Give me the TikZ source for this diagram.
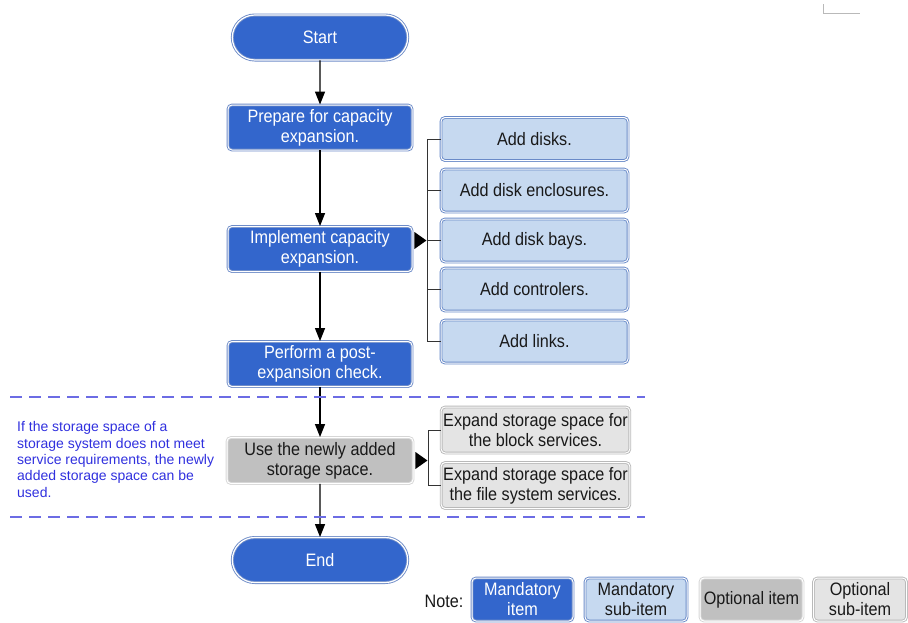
\documentclass[tikz,border=0pt]{standalone}
\usepackage{fontspec}
\setmainfont{Liberation Sans}
\newfontfamily\narrowsans[FakeStretch=0.9]{Liberation Sans}
\usetikzlibrary{arrows.meta,shapes.misc,calc}

\definecolor{mblue}{RGB}{51,102,204}
\definecolor{mborder}{RGB}{110,140,200}
\definecolor{lblue}{RGB}{198,217,240}
\definecolor{lborder}{RGB}{105,138,200}
\definecolor{ogray}{RGB}{192,192,192}
\definecolor{oborder}{RGB}{214,214,214}
\definecolor{sgray}{RGB}{228,228,228}
\definecolor{sborder}{RGB}{185,185,185}
\definecolor{zone}{RGB}{108,108,228}
\definecolor{remark}{RGB}{48,48,222}

\newcommand{\boxfont}{\narrowsans\fontsize{18}{20}\selectfont}
\newcommand{\remarkfont}{\fontsize{14}{16.3}\selectfont}

\tikzset{
  framed/.style={rounded corners=4pt, double distance=1pt, line width=0.9pt,
    align=center, inner sep=2pt, font=\boxfont},
  mainbox/.style={framed, rectangle, fill=mblue, draw=mborder, double=white,
    text=white, minimum width=184pt, minimum height=45pt},
  terminal/.style={rounded rectangle, fill=mblue, draw=mborder, double=white,
    double distance=1.2pt, line width=0.9pt, text=white, font=\boxfont,
    minimum width=182pt, minimum height=45pt},
  subbox/.style={framed, rectangle, fill=lblue, draw=lborder, double=white,
    text=black!90, minimum width=187pt, minimum height=43pt},
  optbox/.style={framed, rectangle, fill=ogray, draw=oborder, double=white,
    text=black!90, minimum width=186pt, minimum height=46pt},
  optsub/.style={framed, rectangle, fill=sgray, draw=sborder, double=white,
    text=black!90, minimum width=185pt, minimum height=46pt},
  flow/.style={line width=1.3pt, -{Triangle[length=13pt,width=10pt]}},
  brace/.style={line width=1pt, draw=black!80},
  zoneline/.style={draw=zone, line width=1.6pt, dash pattern=on 12pt off 7pt},
  pointer/.style={fill=black},
}

\begin{document}
\begin{tikzpicture}[x=1pt,y=-1pt]
\useasboundingbox (0,0) rectangle (908,622);

% main flow
\node[terminal] (start) at (320,37.5) {Start};
\node[mainbox]  (prep)  at (320,127.5) {Prepare for capacity\\expansion.};
\node[mainbox]  (impl)  at (320,249) {Implement capacity\\expansion.};
\node[mainbox]  (perf)  at (320,364) {Perform a post-\\expansion check.};
\node[optbox]   (use)   at (320,460.5) {Use the newly added\\storage space.};
\node[terminal] (end)   at (320,560) {End};

% expansion sub-items
\node[subbox] (disks) at (534.5,139) {Add disks.};
\node[subbox] (encl)  at (534.5,190.5) {Add disk enclosures.};
\node[subbox] (bays)  at (534.5,240.5) {Add disk bays.};
\node[subbox] (ctrl)  at (534.5,289.5) {Add controlers.};
\node[subbox] (links) at (534.5,341.5) {Add links.};

% storage sub-items
\node[optsub] (block) at (535.5,430) {Expand storage space for\\the block services.};
\node[optsub] (files) at (535.5,485.5) {Expand storage space for\\the file system services.};

% flow arrows
\draw[flow] (start) -- (prep);
\draw[flow] (prep) -- (impl);
\draw[flow] (impl) -- (perf);
\draw[flow] (perf) -- (use);
\draw[flow] (use) -- (end);

% bracket joining the expansion sub-items
\coordinate (bx1) at (427,0);
\draw[brace] (disks.west) -- (disks.west -| bx1) -- (links.west -| bx1) -- (links.west);
\draw[brace] (encl.west) -- (encl.west -| bx1);
\draw[brace] (bays.west) -- (bays.west -| bx1);
\draw[brace] (ctrl.west) -- (ctrl.west -| bx1);
\fill[pointer] ($(impl.east |- bays.west)+(2,-8.5)$) -- ++(0,17) -- ++(12,-8.5) -- cycle;

% bracket joining the storage sub-items
\coordinate (bx2) at (428,0);
\draw[brace] (block.west) -- (block.west -| bx2) -- (files.west -| bx2) -- (files.west);
\fill[pointer] ($(use.east)+(2,-8.5)$) -- ++(0,17) -- ++(12,-8.5) -- cycle;

% optional zone
\draw[zoneline] (10,397) -- (645,397);
\draw[zoneline] (10,517) -- (645,517);
\node[anchor=north west, align=left, text=remark, font=\remarkfont, inner sep=0pt]
  (remark) at (17,421.5) {If the storage space of a\\storage system does not meet\\service requirements, the newly\\added storage space can be\\used.};

% legend
\node[font=\boxfont, text=black!90] (note) at (444,601) {Note:};
\node[mainbox, minimum width=101pt, minimum height=43pt] (lg1) at (522.5,599.5) {Mandatory\\item};
\node[subbox, minimum width=102pt, minimum height=43pt] (lg2) at (636,599.5) {Mandatory\\sub-item};
\node[optbox, minimum width=103pt, minimum height=43pt] (lg3) at (751.5,599.5) {Optional item};
\node[optsub, minimum width=93pt, minimum height=43pt] (lg4) at (860,599.5) {Optional\\sub-item};

% corner mark
\draw[gray!55, line width=0.6pt] (823,4) -- (823,13) -- (860,13);
\end{tikzpicture}
\end{document}
